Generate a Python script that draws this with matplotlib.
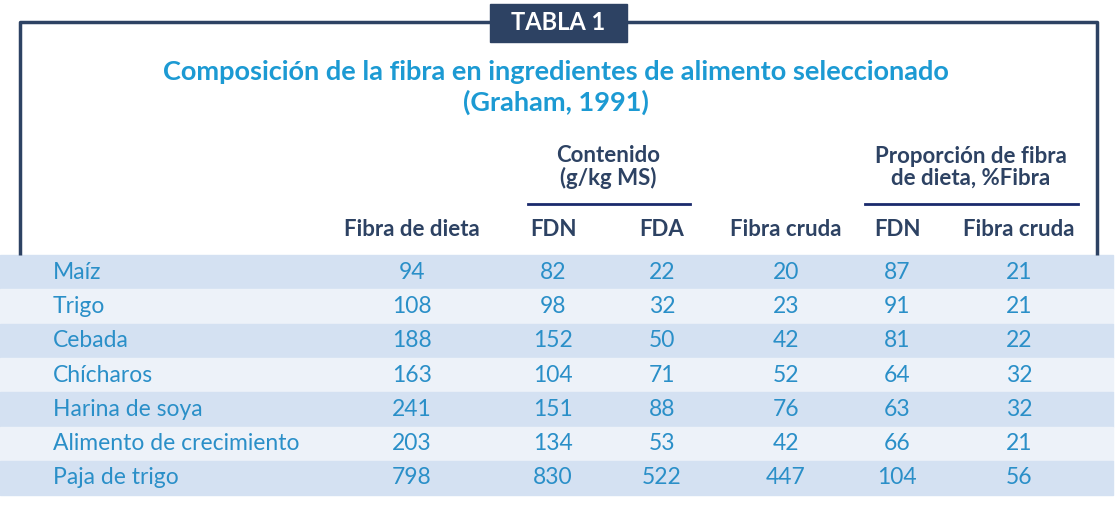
import matplotlib
matplotlib.use("Agg")
import matplotlib.pyplot as plt
from matplotlib.patches import Rectangle

ingredientes = ["Maíz", "Trigo", "Cebada", "Chícharos", "Harina de soya",
                "Alimento de crecimiento", "Paja de trigo"]
fibra_dieta = [94, 108, 188, 163, 241, 203, 798]
fdn = [82, 98, 152, 104, 151, 134, 830]
fda = [22, 32, 50, 71, 88, 53, 522]
fibra_cruda = [20, 23, 42, 52, 76, 42, 447]
pct_fdn = [87, 91, 81, 64, 63, 66, 104]
pct_fibra_cruda = [21, 21, 22, 32, 32, 21, 56]
col_headers = ["Fibra de dieta", "FDN", "FDA", "Fibra cruda", "FDN", "Fibra cruda"]

FONT = "Lato"
NAVY = "#2d4263"
TITLE = "#1c9ad3"
VAL = "#2a8fc8"

fig = plt.figure(figsize=(11.16, 5.05), dpi=100)
ax = fig.add_axes([0, 0, 1, 1])
ax.set_xlim(0, 1116); ax.set_ylim(505, 0); ax.axis("off")

# frame
ax.plot([20, 20, 1097, 1097], [255, 22, 22, 255], color=NAVY, lw=2.5, solid_capstyle="butt")
ax.add_patch(Rectangle((490, 4), 137, 38, color=NAVY, zorder=3))
ax.text(558, 23, "TABLA 1", color="white", fontsize=17, fontweight="bold",
        ha="center", va="center", family=FONT, zorder=4)

ax.text(556, 72, "Composición de la fibra en ingredientes de alimento seleccionado",
        color=TITLE, fontsize=19.5, fontweight="bold", ha="center", va="center", family=FONT)
ax.text(556, 102, "(Graham, 1991)", color=TITLE, fontsize=19.5, fontweight="bold",
        ha="center", va="center", family=FONT)

ax.text(608, 167, "Contenido\n(g/kg MS)", color=NAVY, fontsize=16, fontweight="bold",
        ha="center", va="center", family=FONT, linespacing=1.05)
ax.text(971, 167, "Proporción de fibra\nde dieta, %Fibra", color=NAVY, fontsize=16, fontweight="bold",
        ha="center", va="center", family=FONT, linespacing=1.05)
ax.plot([528, 690], [204, 204], color="#1a2a6c", lw=2)
ax.plot([865, 1078], [204, 204], color="#1a2a6c", lw=2)

col_x = [412, 553, 662, 786, 897, 1019]
for x, h in zip(col_x, col_headers):
    ax.text(x, 229, h, color=NAVY, fontsize=16, fontweight="bold", ha="center",
            va="center", family=FONT)

cols = [fibra_dieta, fdn, fda, fibra_cruda, pct_fdn, pct_fibra_cruda]
y0, rh = 255, 34.3
for i, name in enumerate(ingredientes):
    top = y0 + i * rh
    ax.add_patch(Rectangle((0, top), 1113, rh,
                           color="#d4e1f2" if i % 2 == 0 else "#edf2f9", zorder=0))
    yc = top + rh / 2
    ax.text(53, yc, name, color=VAL, fontsize=16.5, ha="left", va="center", family=FONT)
    for x, c in zip(col_x, cols):
        ax.text(x, yc, str(c[i]), color=VAL, fontsize=16.5, ha="center", va="center", family=FONT)

fig.savefig("out.png", dpi=100)
